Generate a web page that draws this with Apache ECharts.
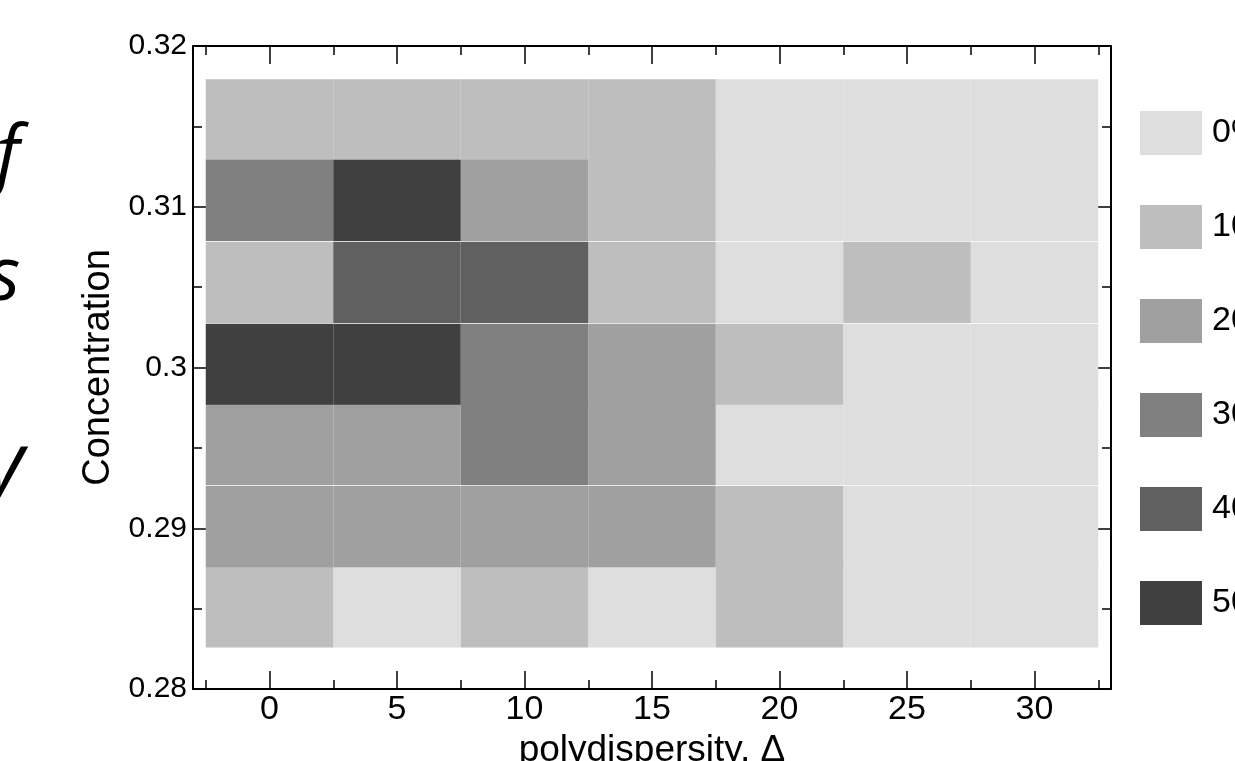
<!DOCTYPE html>
<html>
<head>
<meta charset="utf-8">
<script src="https://cdn.jsdelivr.net/npm/echarts@6/dist/echarts.min.js"></script>
<style>
html,body{margin:0;padding:0;background:#fff;}
#chart{width:1235px;height:761px;}
</style>
</head>
<body>
<div id="chart"></div>
<script>
// ---- data ----
const xValues = [0, 5, 10, 15, 20, 25, 30];                        // polydispersity, Δ
const yValues = [0.2851, 0.2901, 0.2952, 0.3002, 0.3053, 0.3104, 0.3154]; // concentration (row centres)
// percentage in each cell, rows from bottom (first yValue) to top
const row0 = [10, 0, 10, 0, 10, 0, 0];
const row1 = [20, 20, 20, 20, 10, 0, 0];
const row2 = [20, 20, 30, 20, 0, 0, 0];
const row3 = [50, 50, 30, 20, 10, 0, 0];
const row4 = [10, 40, 40, 10, 0, 10, 0];
const row5 = [30, 50, 20, 10, 0, 0, 0];
const row6 = [10, 10, 10, 10, 0, 0, 0];
const percentRows = [row0, row1, row2, row3, row4, row5, row6];
const levels = [0, 10, 20, 30, 40, 50];
const levelLabels = ['0%', '10%', '20%', '30%', '40%', '50%'];
const xTickLabels = [0, 5, 10, 15, 20, 25, 30];
const xMinorTicks = [-2.5, 2.5, 7.5, 12.5, 17.5, 22.5, 27.5, 32.5];
const sideText = ['f', 's', 'y'];

// ---- styling ----
const levelColors = ['#dedede', '#bebebe', '#a0a0a0', '#808080', '#606060', '#404040'];
const FONT = '"Liberation Sans", Arial, Helvetica, sans-serif';

const cellW = xValues[1] - xValues[0];
const cellH = (yValues[yValues.length - 1] - yValues[0]) / (yValues.length - 1);

function cellsFor(level) {
  const out = [];
  percentRows.forEach((row, ri) => {
    row.forEach((v, ci) => {
      if (v === level) out.push([xValues[ci], yValues[ri], v]);
    });
  });
  return out;
}

function renderCell(params, api) {
  const x = api.value(0), y = api.value(1);
  const p0 = api.coord([x - cellW / 2, y + cellH / 2]);
  const p1 = api.coord([x + cellW / 2, y - cellH / 2]);
  return {
    type: 'rect',
    shape: { x: p0[0], y: p0[1], width: p1[0] - p0[0], height: p1[1] - p0[1] },
    style: { fill: api.visual('color'), stroke: null }
  };
}

const series = levels.map((lv, i) => ({
  type: 'custom',
  name: levelLabels[i],
  xAxisIndex: 0,
  yAxisIndex: 0,
  itemStyle: { color: levelColors[i] },
  renderItem: renderCell,
  encode: { x: 0, y: 1 },
  data: cellsFor(lv),
  silent: true
}));

const axisLineStyle = { color: '#000', width: 2 };
const tickStyle = { color: '#000', width: 1.5 };

const xCommon = { type: 'value', min: -3, max: 33, splitLine: { show: false } };
const yCommon = { type: 'value', min: 0.28, max: 0.32, interval: 0.01, splitLine: { show: false } };

const option = {
  animation: false,
  backgroundColor: '#fff',
  grid: { left: 193, right: 124, top: 46, bottom: 72, containLabel: false, outerBoundsMode: 'none' },
  legend: {
    orient: 'vertical',
    left: 1140,
    top: 111,
    itemWidth: 62,
    itemHeight: 44,
    itemGap: 50,
    icon: 'rect',
    padding: 0,
    textStyle: { fontSize: 34, color: '#000', fontFamily: FONT, padding: [0, 0, 0, 5] },
    data: levelLabels
  },
  xAxis: [
    Object.assign({}, xCommon, {
      position: 'bottom',
      name: 'polydispersity, Δ',
      nameLocation: 'middle',
      nameGap: 41,
      nameTextStyle: { fontSize: 37, color: '#000', fontFamily: FONT },
      axisLine: { show: true, onZero: false, lineStyle: axisLineStyle },
      axisTick: { show: true, inside: true, length: 18, lineStyle: tickStyle, customValues: xTickLabels },
      axisLabel: { show: true, fontSize: 34, color: '#000', fontFamily: FONT, margin: 4, customValues: xTickLabels }
    }),
    Object.assign({}, xCommon, {
      position: 'bottom',
      axisLine: { show: false, onZero: false },
      axisTick: { show: true, inside: true, length: 9, lineStyle: tickStyle, customValues: xMinorTicks },
      axisLabel: { show: false }
    }),
    Object.assign({}, xCommon, {
      position: 'top',
      axisLine: { show: true, onZero: false, lineStyle: axisLineStyle },
      axisTick: { show: true, inside: true, length: 18, lineStyle: tickStyle, customValues: xTickLabels },
      axisLabel: { show: false }
    }),
    Object.assign({}, xCommon, {
      position: 'top',
      axisLine: { show: false, onZero: false },
      axisTick: { show: true, inside: true, length: 9, lineStyle: tickStyle, customValues: xMinorTicks },
      axisLabel: { show: false }
    })
  ],
  yAxis: [
    Object.assign({}, yCommon, {
      position: 'left',
      name: 'Concentration',
      nameLocation: 'middle',
      nameGap: 74,
      nameTextStyle: { fontSize: 38, color: '#000', fontFamily: FONT },
      axisLine: { show: true, onZero: false, lineStyle: axisLineStyle },
      axisTick: { show: true, inside: true, length: 18, lineStyle: tickStyle },
      minorTick: { show: true, splitNumber: 2, length: 9, lineStyle: tickStyle },
      axisLabel: { show: true, fontSize: 30, color: '#000', fontFamily: FONT, margin: 6 }
    }),
    Object.assign({}, yCommon, {
      position: 'right',
      axisLine: { show: true, onZero: false, lineStyle: axisLineStyle },
      axisTick: { show: true, inside: true, length: 18, lineStyle: tickStyle },
      minorTick: { show: true, splitNumber: 2, length: 9, lineStyle: tickStyle },
      axisLabel: { show: false }
    })
  ],
  graphic: [
    { type: 'text', left: -4, top: 120, style: { text: sideText[0], fontSize: 75, fontStyle: 'italic', fontFamily: '"Open Sans", sans-serif', fill: '#000' } },
    { type: 'text', left: -12, top: 241, style: { text: sideText[1], fontSize: 75, fontStyle: 'italic', fontFamily: '"Open Sans", sans-serif', fill: '#000' } },
    { type: 'text', left: -15, top: 425, style: { text: sideText[2], fontSize: 85, fontStyle: 'italic', fontFamily: '"Open Sans", sans-serif', fill: '#000' } }
  ],
  series: series
};

const chart = echarts.init(document.getElementById('chart'), null, { renderer: 'canvas' });
chart.setOption(option);
</script>
</body>
</html>
